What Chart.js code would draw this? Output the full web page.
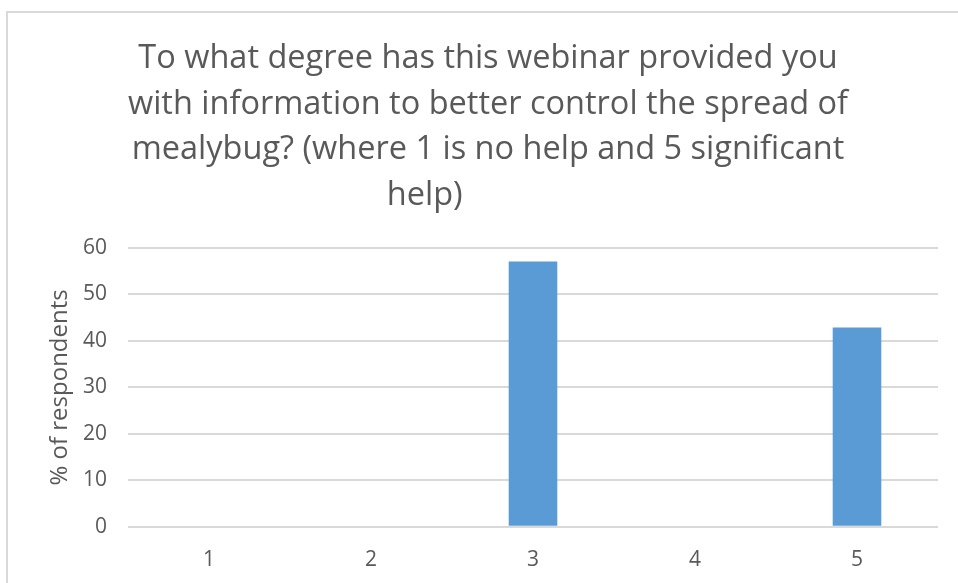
<!DOCTYPE html>
<html>
<head>
<meta charset="utf-8">
<style>
  html, body { margin: 0; padding: 0; background: #fff; overflow: hidden; }
  #frame { position: absolute; left: 6px; top: 11px; width: 1000px; height: 600px;
           border-left: 2px solid #d9d9d9; border-top: 2px solid #d9d9d9; }
  #wrap { position: absolute; left: 0; top: 0; width: 958px; height: 583px; }
</style>
</head>
<body>
<div id="frame"></div>
<div id="wrap">
  <canvas id="myChart"></canvas>
</div>

<script src="https://cdn.jsdelivr.net/npm/chart.js"></script>

<script>
  const categories = ['1', '2', '3', '4', '5'];
  const percentRespondents = [0, 0, 57.1, 0, 42.9];
  const titleLines = [
    'To what degree has this webinar provided you',
    'with information to better control the spread of',
    'mealybug? (where 1 is no help and 5 significant',
    'help)               '
  ];
  const yAxisTitle = '% of respondents';

  const textColor = '#595959';
  const fontFamily = '"Open Sans", "Noto Sans", sans-serif';

  const ctx = document.getElementById('myChart');
  new Chart(ctx, {
    type: 'bar',
    data: {
      labels: categories,
      datasets: [{
        label: yAxisTitle,
        data: percentRespondents,
        backgroundColor: '#5b9bd5',
        borderWidth: 0,
        categoryPercentage: 1,
        barPercentage: 0.3
      }]
    },
    options: {
      responsive: true,
      maintainAspectRatio: false,
      animation: false,
      layout: { padding: { left: 38, right: 20, top: 0, bottom: -11 } },
      plugins: {
        legend: { display: false },
        tooltip: { enabled: false },
        title: {
          display: true,
          text: titleLines,
          color: textColor,
          font: { family: fontFamily, size: 32.5, weight: 'normal', lineHeight: 1.4 },
          padding: { top: 36, bottom: 30 }
        }
      },
      scales: {
        x: {
          grid: { display: false, drawTicks: false },
          border: { display: false },
          ticks: { color: textColor, font: { family: fontFamily, size: 21 }, padding: 21 }
        },
        y: {
          min: 0,
          max: 60,
          ticks: { stepSize: 10, color: textColor, font: { family: fontFamily, size: 21 }, padding: 21 },
          grid: { color: '#d9d9d9', lineWidth: 2, drawTicks: false },
          border: { display: false },
          title: {
            display: true,
            text: yAxisTitle,
            color: textColor,
            font: { family: fontFamily, size: 24 },
            padding: { top: 8, bottom: 0 }
          },
          afterFit: (scale) => { scale.width = 90; }
        }
      }
    }
  });
</script>
</body>
</html>
